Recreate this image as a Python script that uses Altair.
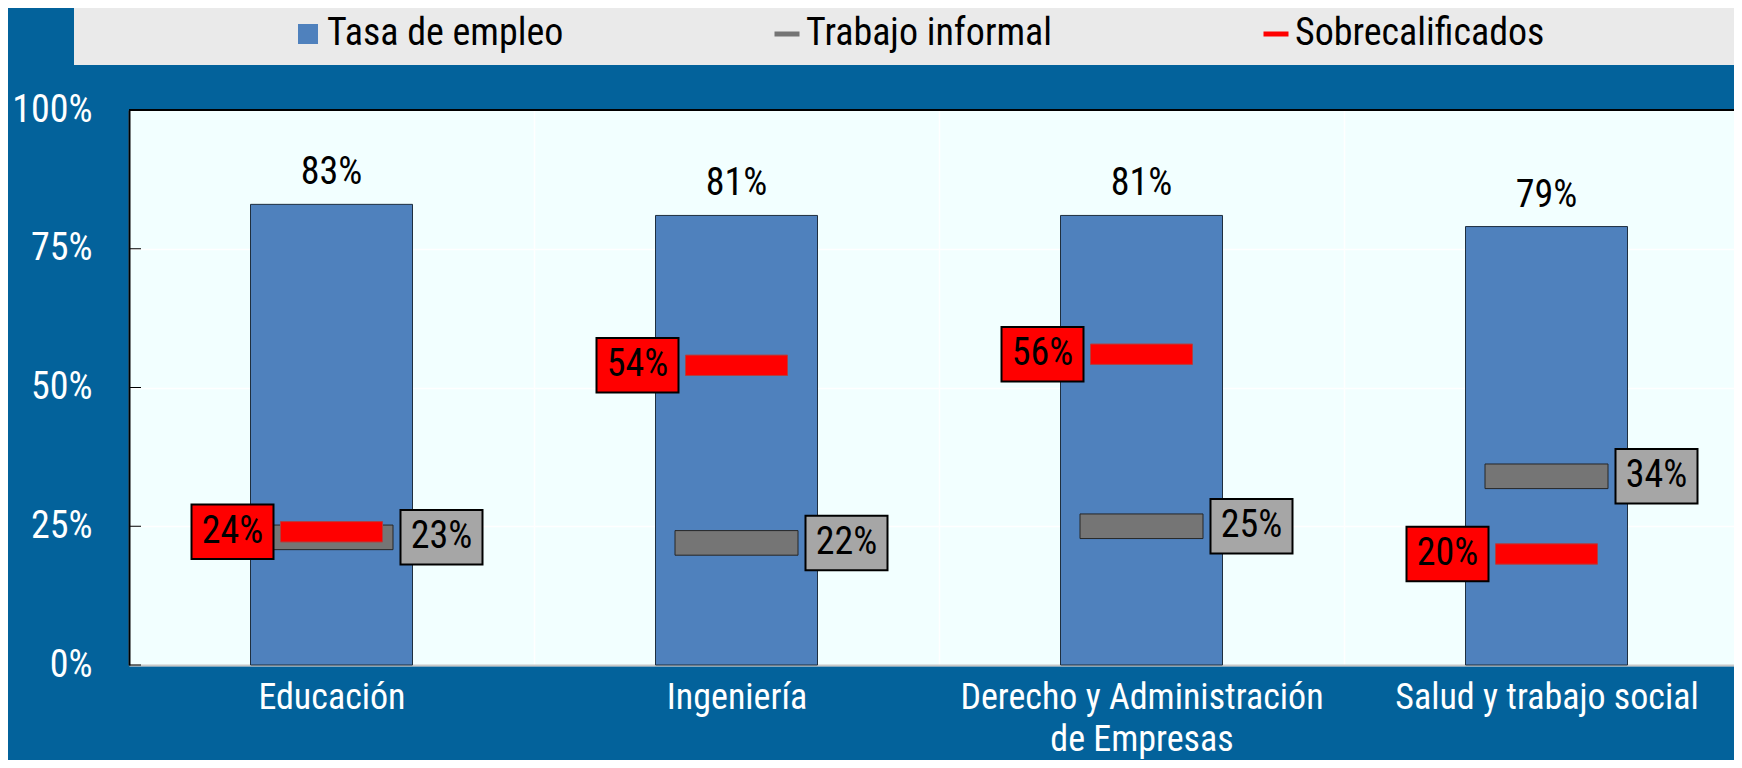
import altair as alt
import pandas as pd

# ---- data ----
categorias = ["Educación", "Ingeniería", "Derecho y Administración de Empresas", "Salud y trabajo social"]
tasa_empleo = [83, 81, 81, 79]
trabajo_informal = [23, 22, 25, 34]
sobrecalificados = [24, 54, 56, 20]
series = ["Tasa de empleo", "Trabajo informal", "Sobrecalificados"]
ticks_y = [0, 25, 50, 75, 100]

FONT = "Roboto Condensed"

rows = []
for serie, vals in zip(series, [tasa_empleo, trabajo_informal, sobrecalificados]):
    for c, v in zip(categorias, vals):
        rows.append({"categoria": c, "serie": serie, "valor": v})
df = pd.DataFrame(rows)

SQUARE = "M-0.8,-0.8H0.8V0.8H-0.8Z"
WIDE = "M-1,-0.2H1V0.2H-1Z"
BOX = "M-1,-0.665H1V0.665H-1Z"

color_scale = alt.Scale(domain=series, range=["#4F81BD", "#757575", "#FF0000"])
shape_scale = alt.Scale(domain=series, range=[SQUARE, WIDE, WIDE])

LEG = alt.Legend(
    orient="none", legendX=160, legendY=-95, direction="horizontal", title=None,
    labelFont=FONT, labelFontSize=38, labelColor="black", labelOffset=0, labelLimit=0,
    columnPadding=204, symbolSize=625, padding=0, symbolStrokeColor="#1F2F3F",
    symbolStrokeWidth=1, symbolOpacity=1,
)

x_enc = alt.X(
    "categoria:N", sort=categorias,
    scale=alt.Scale(range=[0, 1620], paddingInner=0, paddingOuter=0),
    axis=alt.Axis(
        title=None, labelAngle=0, labelFont=FONT, labelFontSize=36, labelColor="white",
        labelPadding=15, labelLineHeight=42, ticks=False, tickSize=0, labelLimit=0,
        domainColor="#C8C8C8", domainWidth=2, grid=True, gridColor="white", gridWidth=1.5,
        tickBand="extent", labelBaseline="top",
        labelExpr="datum.label == 'Derecho y Administración de Empresas' ? ['Derecho y Administración', 'de Empresas'] : datum.label",
    ),
)
y_enc = alt.Y(
    "valor:Q", scale=alt.Scale(domain=[0, 100], nice=False),
    axis=alt.Axis(
        title=None, values=ticks_y, labelExpr="datum.value + '%'", labelFont=FONT,
        labelFontSize=38, labelColor="white", ticks=False, tickSize=0, labelPadding=37,
        domainColor="black", domainWidth=2, grid=True, gridColor="white", gridWidth=1.5,
    ),
)

base = alt.Chart(df).transform_calculate(etiqueta="datum.valor + '%'")

legend_bg = alt.Chart(pd.DataFrame({"a": [0]})).mark_rect(fill="#EAEAEA").encode(
    x=alt.value(-55), x2=alt.value(1605), y=alt.value(-102), y2=alt.value(-45)
)

top_border = alt.Chart(pd.DataFrame({"a": [0]})).mark_rule(color="black", strokeWidth=2).encode(
    y=alt.datum(100)
)

bars = base.transform_filter("datum.serie == 'Tasa de empleo'").mark_bar(
    size=162, stroke="#1F2F3F", strokeWidth=1, opacity=1
).encode(x=x_enc, y=y_enc, color=alt.Color("serie:N", scale=color_scale, legend=LEG))

gray = base.transform_filter("datum.serie == 'Trabajo informal'").mark_point(
    filled=True, size=123 * 123, stroke="#262626", strokeWidth=1, opacity=1
).encode(
    x=x_enc, y=y_enc,
    color=alt.Color("serie:N", scale=color_scale, legend=LEG),
    shape=alt.Shape("serie:N", scale=shape_scale, legend=LEG),
)

red = base.transform_filter("datum.serie == 'Sobrecalificados'").mark_point(
    filled=True, size=102 * 102, stroke="#B04040", strokeWidth=1, opacity=1
).encode(
    x=x_enc, y=y_enc,
    color=alt.Color("serie:N", scale=color_scale, legend=LEG),
    shape=alt.Shape("serie:N", scale=shape_scale, legend=LEG),
)

gray_box = base.transform_filter("datum.serie == 'Trabajo informal'").mark_point(
    shape=BOX, size=82 * 82, filled=True, fill="#A6A6A6", stroke="black", strokeWidth=2,
    opacity=1, xOffset=110
).encode(x=x_enc, y=y_enc)
gray_txt = base.transform_filter("datum.serie == 'Trabajo informal'").mark_text(
    font=FONT, fontSize=38, color="black", align="center", baseline="middle", dx=110
).encode(x=x_enc, y=y_enc, text="etiqueta:N")

red_box = base.transform_filter("datum.serie == 'Sobrecalificados'").mark_point(
    shape=BOX, size=82 * 82, filled=True, fill="#FF0000", stroke="black", strokeWidth=2,
    opacity=1, xOffset=-99
).encode(x=x_enc, y=y_enc)
red_txt = base.transform_filter("datum.serie == 'Sobrecalificados'").mark_text(
    font=FONT, fontSize=38, color="black", align="center", baseline="middle", dx=-99
).encode(x=x_enc, y=y_enc, text="etiqueta:N")

bar_txt = base.transform_filter("datum.serie == 'Tasa de empleo'").mark_text(
    font=FONT, fontSize=38, color="black", align="center", baseline="alphabetic", dy=-20
).encode(x=x_enc, y=y_enc, text="etiqueta:N")

ticks = alt.Chart(pd.DataFrame({"valor": ticks_y})).mark_rule(color="black", strokeWidth=1).encode(
    y=y_enc, x=alt.value(0), x2=alt.value(12)
)

chart = alt.layer(
    legend_bg, bars, gray, red, gray_box, gray_txt, red_box, red_txt, bar_txt, ticks, top_border
).properties(
    width=1605, height=555,
    padding={"left": 121, "top": 102, "right": 0, "bottom": 95},
    autosize=alt.AutoSizeParams(type="none"),
).configure(
    background="#03629B",
).configure_view(
    fill="#F2FFFF", stroke=None,
)

chart.save("out.html", embed_options={"renderer": "svg", "actions": False})
